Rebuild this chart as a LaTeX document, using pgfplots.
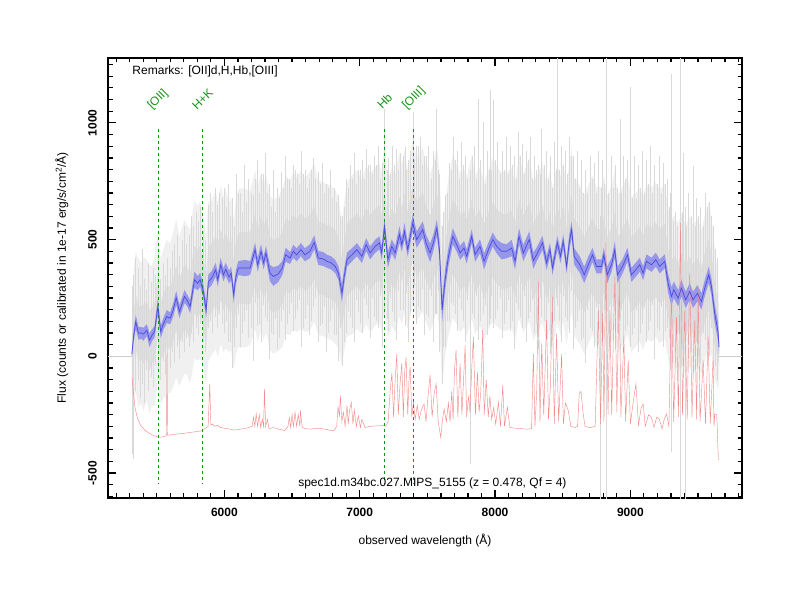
\documentclass[border=0pt]{standalone}
\usepackage{fontspec}
\setmainfont{Liberation Sans}
\usepackage{pgfplots}
\pgfplotsset{compat=1.18}
\usepgfplotslibrary{fillbetween}
\usepackage{pgfplotstable}
\definecolor{bline}{RGB}{75,75,222}
\definecolor{bband}{RGB}{150,150,234}
\definecolor{rline}{RGB}{242,140,140}
\definecolor{gline}{RGB}{20,150,20}

\pgfplotstableread{
x y e c g
5316 8 10 60 150
5330 90 25 100 280
5345 148 30 120 300
5365 99 28 120 320
5385 100 25 115 300
5402 95 28 125 330
5427 112 25 120 300
5447 69 30 130 320
5465 90 25 120 300
5484 105 25 125 320
5508 213 35 130 330
5530 105 28 125 310
5550 140 25 130 320
5574 170 28 130 330
5599 163 25 135 320
5620 195 28 135 330
5644 250 30 140 340
5668 191 28 140 320
5705 256 28 140 330
5725 240 25 140 320
5747 213 28 145 330
5779 328 35 145 340
5803 313 30 145 330
5821 328 30 145 340
5845 277 30 150 330
5865 198 35 150 320
5882 320 30 150 340
5906 335 30 150 330
5936 371 30 150 340
5951 328 28 150 330
5973 392 30 150 340
5993 349 28 150 330
6010 373 28 150 340
6035 339 28 150 320
6050 356 28 150 330
6069 263 35 150 320
6085 340 30 150 330
6103 378 30 150 340
6153 378 35 155 340
6190 378 30 155 330
6227 457 30 155 340
6246 392 30 155 330
6271 450 30 155 340
6290 400 28 155 330
6307 443 30 155 340
6337 356 35 155 330
6362 342 40 155 330
6398 353 35 155 330
6428 378 30 155 340
6453 435 30 155 340
6485 421 25 155 330
6509 450 28 155 340
6534 435 28 155 330
6566 457 28 155 340
6595 435 28 155 330
6632 450 30 155 340
6664 488 30 155 340
6694 421 30 155 330
6731 417 30 155 330
6758 407 28 155 330
6790 400 28 155 330
6819 385 28 155 330
6843 356 30 155 320
6869 270 40 150 310
6885 340 35 150 320
6906 414 30 155 330
6943 435 28 155 340
6979 457 28 155 340
7016 428 28 155 330
7048 478 28 160 340
7077 443 28 160 340
7114 471 28 160 340
7146 486 28 160 340
7163 443 30 160 340
7183 557 35 160 350
7208 414 35 160 340
7237 471 30 160 340
7262 443 30 160 340
7294 522 35 160 350
7311 478 30 160 340
7331 536 35 160 350
7355 457 30 160 340
7392 572 35 160 350
7421 500 35 160 350
7466 543 35 160 350
7490 486 35 160 340
7520 443 40 160 340
7544 486 35 160 340
7570 550 35 160 350
7589 457 40 160 340
7609 198 50 150 320
7631 328 45 150 330
7656 428 40 155 340
7688 514 35 160 350
7717 478 30 160 340
7742 443 30 160 340
7771 464 30 160 340
7791 428 30 160 340
7828 514 30 160 350
7852 435 30 160 340
7889 471 30 160 340
7919 407 35 160 340
7951 457 30 160 340
7983 500 30 160 350
8012 471 30 160 340
8049 450 35 160 340
8086 450 30 160 340
8123 464 35 160 340
8148 407 35 160 340
8177 514 35 160 350
8209 443 35 160 340
8253 500 35 160 350
8283 410 35 160 340
8307 435 30 160 340
8351 486 30 160 340
8381 400 30 160 340
8406 457 30 160 340
8425 378 30 160 340
8460 486 30 160 340
8484 428 30 160 340
8504 493 30 160 340
8529 385 30 160 340
8548 486 35 160 340
8566 543 35 160 350
8585 428 35 160 340
8627 392 35 160 340
8659 349 35 160 340
8689 392 35 160 340
8720 435 30 160 340
8750 385 30 160 340
8787 385 30 160 340
8804 435 30 160 340
8829 349 35 160 340
8861 392 30 160 340
8885 457 35 160 340
8905 349 35 160 340
8942 385 30 160 340
8979 435 30 160 340
9008 349 30 160 330
9040 371 30 160 330
9070 392 30 160 330
9094 356 30 160 330
9119 407 30 160 330
9156 392 30 160 330
9188 414 30 160 330
9217 385 30 160 330
9254 407 30 160 330
9279 313 40 150 320
9304 256 40 150 320
9321 285 35 150 320
9353 249 35 150 320
9377 292 35 150 320
9409 242 35 150 320
9439 278 35 150 320
9463 242 35 150 320
9495 270 35 150 320
9525 235 35 150 310
9550 292 35 150 310
9579 349 35 150 310
9599 299 35 150 300
9623 184 40 140 280
9648 105 40 120 250
9655 40 30 80 150
}\blue

\pgfplotstableread{
x lo hi
5320 -420 300
5328 -440 350
5345 -150 420
5360 -100 380
5375 -180 300
5392 -120 460
5410 -200 330
5425 -60 290
5440 -150 400
5458 -90 320
5475 -130 380
5492 -40 350
5510 -60 460
5528 -100 330
5545 -20 400
5562 -80 350
5580 0 420
5598 -50 380
5615 20 450
5632 -30 480
5650 40 520
5667 -10 430
5685 60 500
5702 20 560
5720 80 480
5738 40 520
5755 100 600
5772 60 560
5790 120 620
5808 90 580
5825 140 640
5842 60 540
5860 20 500
5878 120 650
5895 150 700
5912 100 620
5930 170 720
5948 120 650
5965 180 700
5982 140 680
6000 100 720
6030 60 740
6060 -50 680
6090 120 780
6120 40 700
6150 150 820
6180 80 760
6210 -20 690
6240 130 840
6270 60 780
6300 170 870
6330 -10 740
6360 90 800
6390 30 720
6420 150 790
6450 70 860
6480 180 760
6510 110 820
6540 200 780
6570 40 880
6600 160 800
6630 90 760
6660 210 850
6690 60 790
6720 140 830
6750 20 740
6780 150 800
6810 90 720
6840 -20 690
6870 -40 600
6900 100 760
6930 170 820
6960 60 870
6990 190 800
7020 100 840
7050 220 890
7080 80 820
7110 170 860
7140 120 900
7170 40 830
7185 180 1060
7210 110 850
7240 190 900
7270 70 890
7300 200 870
7336 130 895
7360 60 840
7397 230 1046
7420 140 900
7450 200 940
7480 90 860
7510 170 900
7540 60 880
7569 180 1060
7590 20 780
7610 -120 560
7630 40 690
7660 150 830
7690 220 940
7720 110 880
7750 200 920
7780 60 860
7816 -461 800
7845 160 900
7877 70 1103
7914 180 1002
7940 90 880
7963 160 1139
7987 120 1096
8020 200 920
8050 80 880
8080 190 940
8110 110 900
8140 30 860
8170 200 960
8200 120 910
8230 60 880
8260 190 940
8290 100 860
8320 30 820
8344 170 975
8380 90 880
8410 10 860
8440 150 920
8462 220 1280
8490 60 900
8520 170 880
8550 100 940
8580 30 860
8610 150 880
8640 70 840
8670 -30 800
8700 120 860
8730 40 830
8760 150 880
8775 -610 600
8795 80 840
8824 -610 1280
8860 110 860
8890 30 820
8922 150 1017
8950 60 860
8980 130 840
8996 40 1154
9030 120 860
9060 20 820
9090 140 880
9120 60 840
9150 150 900
9180 -10 820
9210 110 860
9240 40 830
9270 120 760
9295 -60 700
9304 -410 1210
9330 20 620
9365 -610 680
9370 40 1280
9390 -40 873
9402 -610 640
9430 50 700
9463 -20 816
9490 60 680
9520 -30 640
9550 70 700
9580 0 660
9610 -60 560
9640 -100 420
6015 150 640
6045 60 600
6075 40 560
6105 180 700
6135 100 620
6165 200 660
6195 120 700
6225 230 760
6255 140 700
6285 220 780
6315 150 700
6345 100 640
6375 160 620
6405 80 680
6435 200 720
6465 140 760
6495 230 720
6525 160 800
6555 240 740
6585 120 780
6615 220 720
6645 150 800
6675 250 760
6705 130 740
6735 210 700
6765 100 720
6795 200 680
6825 90 660
6855 120 600
6885 60 640
6915 190 720
6945 120 760
6975 240 740
7005 140 800
7035 250 760
7065 160 820
7095 250 780
7125 150 820
7155 260 760
7200 160 800
7225 250 780
7255 150 820
7285 280 800
7320 200 860
7345 270 800
7375 190 880
7405 300 840
7435 210 900
7465 290 820
7495 180 860
7525 260 760
7555 180 840
7580 280 800
7620 40 620
7645 150 700
7675 230 800
7705 180 840
7735 250 760
7765 150 820
7795 240 760
7830 180 860
7860 260 760
7890 150 840
7925 220 740
7955 140 800
7975 260 800
8005 160 840
8035 250 780
8065 140 800
8095 240 780
8125 150 820
8155 230 760
8185 170 860
8215 260 780
8245 160 840
8275 240 760
8305 140 800
8335 250 780
8365 150 820
8395 230 760
8425 120 720
8455 250 800
8475 150 800
8505 260 820
8535 150 780
8565 280 860
8595 120 760
8625 200 720
8655 80 700
8685 200 700
8715 110 760
8745 210 700
8785 100 720
8810 200 740
8840 90 700
8870 210 720
8900 100 720
8935 200 700
8965 110 760
9000 200 700
9015 90 680
9045 200 680
9075 100 720
9105 210 700
9135 110 740
9165 220 700
9195 120 740
9225 210 700
9255 110 740
9285 80 640
9315 40 580
9345 100 560
9380 30 620
9415 90 560
9450 20 600
9480 100 560
9505 0 600
9535 100 560
9565 50 640
9595 120 600
9625 -40 460
}\spikes

\pgfplotstableread{
x y
5318 -90
5325 -140
5340 -220
5356 -262
5380 -295
5410 -315
5440 -328
5480 -340
5515 -347
5545 -345
5572 -340
5576 20
5580 -338
5610 -336
5650 -333
5700 -330
5750 -326
5800 -322
5835 -319
5855 -310
5880 -300
5892 -118
5900 -295
5912 -290
5930 -300
5950 -296
5970 -305
6000 -308
6040 -312
6069 -316
6100 -314
6140 -310
6180 -305
6205 -300
6215 -260
6225 -300
6235 -245
6245 -300
6258 -250
6268 -305
6280 -270
6290 -300
6296 -140
6305 -300
6318 -270
6330 -310
6360 -305
6400 -312
6446 -318
6470 -300
6480 -262
6490 -305
6500 -250
6510 -300
6522 -240
6534 -300
6546 -250
6558 -300
6562 -232
6575 -305
6600 -310
6640 -312
6680 -308
6720 -310
6760 -314
6807 -320
6830 -300
6840 -215
6850 -260
6857 -168
6868 -280
6880 -240
6892 -300
6906 -211
6915 -290
6925 -230
6938 -197
6950 -290
6960 -230
6975 -300
6990 -255
7005 -305
7016 -270
7040 -305
7080 -300
7120 -298
7176 -297
7190 -300
7210 -280
7225 -150
7238 -70
7250 -260
7262 -100
7274 10
7285 -250
7298 -120
7311 -30
7322 -260
7333 -60
7343 -5
7355 -250
7365 -90
7373 -45
7385 -260
7397 -195
7410 -270
7425 -210
7440 -270
7455 -230
7476 -205
7490 -280
7505 -170
7520 -80
7535 -260
7550 -160
7565 -118
7580 -280
7599 -348
7612 -270
7624 -226
7640 -280
7655 -200
7668 -280
7680 -150
7690 -270
7700 -60
7712 26
7725 -260
7742 -30
7755 -250
7765 -130
7779 47
7790 -260
7805 -170
7815 -240
7828 -50
7840 83
7855 -250
7870 -68
7882 -240
7895 -150
7909 112
7920 -250
7935 -100
7950 -260
7962 -170
7975 -270
7990 -220
8005 -290
8025 -197
8040 -300
8057 -125
8070 -300
8091 -218
8110 -305
8150 -308
8200 -310
8240 -312
8270 -310
8283 10
8295 -300
8308 -150
8320 320
8332 -280
8345 55
8360 -250
8381 155
8395 -270
8410 -120
8423 255
8438 -290
8455 98
8470 -280
8492 10
8505 -290
8520 -200
8541 -232
8560 -300
8590 -305
8610 -300
8622 -160
8635 -150
8650 -240
8665 -300
8700 -306
8740 -300
8763 198
8780 -290
8795 185
8805 -280
8819 486
8835 -250
8849 198
8862 -250
8875 100
8886 342
8900 -240
8918 327
8930 -260
8940 -100
8952 84
8965 -280
8984 -17
9000 -290
9020 -200
9041 -118
9060 -295
9080 -220
9095 -204
9110 -300
9135 -250
9156 -261
9175 -305
9195 -260
9213 -268
9235 -310
9250 -270
9267 -247
9285 -300
9304 298
9320 -280
9341 169
9355 -260
9370 572
9385 -250
9402 198
9420 -270
9439 356
9455 -260
9476 155
9490 -270
9501 298
9515 -280
9538 -17
9555 -290
9575 84
9590 -290
9611 -17
9618 -300
9624 -247
9638 -250
9643 -320
9650 -445
}\red

\begin{document}
\fontsize{12bp}{14bp}\selectfont
\begin{tikzpicture}
\begin{axis}[
  scale only axis, width=634bp, height=440bp,
  xmin=5140, xmax=9825, ymin=-607, ymax=1278,
  xtick={6000,7000,8000,9000},
  ytick={-500,0,500,1000},
  minor xtick={5200,5300,...,9800},
  minor ytick={-600,-550,...,1250},
  tick align=inside,
  major tick length=8bp, minor tick length=4.5bp,
  every tick/.style={black, line width=1.2bp},
  axis line style={line width=1.6bp},
  /pgf/number format/assume math mode=true,
  /pgf/number format/1000 sep={},
  xticklabel style={font=\bfseries, yshift=-6bp},
  yticklabel style={font=\bfseries, rotate=90, anchor=south, inner ysep=11bp},
  every axis x label/.style={at={(axis description cs:0.5,-0.0955)}, anchor=center},
  every axis y label/.style={at={(axis description cs:-0.0726,0.5)}, rotate=90, anchor=center},
  xlabel={observed wavelength (Å)},
  ylabel={Flux (counts or calibrated in 1e-17 erg/s/cm\textsuperscript{2}/Å)},
]
% grey spectrum envelope
\addplot[name path=gu, draw=none] table[x=x, y expr=\thisrow{y}+\thisrow{g}] {\blue};
\addplot[name path=gl, draw=none] table[x=x, y expr=\thisrow{y}-\thisrow{g}] {\blue};
\addplot[fill=gray!12, draw=none] fill between[of=gu and gl];
\addplot[name path=cu, draw=none] table[x=x, y expr=\thisrow{y}+\thisrow{c}] {\blue};
\addplot[name path=cl, draw=none] table[x=x, y expr=\thisrow{y}-\thisrow{c}] {\blue};
\addplot[fill=gray!25, draw=none] fill between[of=cu and cl];
% individual grey spikes
\addplot[draw=none, mark=none, on layer=pre main,
  error bars/.cd, y dir=plus, y explicit, error mark=none,
  error bar style={draw=gray!30, line width=0.5bp, solid}]
  table[x=x, y=lo, y error expr=\thisrow{hi}-\thisrow{lo}] {\spikes};
\addplot[gray!40, line width=0.6bp] coordinates {(5140,0) (5318,0)};
\addplot[gray!40, line width=0.6bp] coordinates {(9652,0) (9825,0)};
% blue smoothed band
\addplot[name path=bu, draw=none] table[x=x, y expr=\thisrow{y}+\thisrow{e}] {\blue};
\addplot[name path=bl, draw=none] table[x=x, y expr=\thisrow{y}-\thisrow{e}] {\blue};
\addplot[fill=bband, draw=none] fill between[of=bu and bl];
% red error spectrum
\addplot[rline, line width=0.45bp] table[x=x, y=y] {\red};
% line markers
\addplot[gline, line width=0.8bp, dash pattern=on 3.5bp off 2.5bp] coordinates {(5509,974) (5509,-547)};
\addplot[gline, line width=0.8bp, dash pattern=on 3.5bp off 2.5bp] coordinates {(5838,974) (5838,-547)};
\addplot[gline, line width=0.8bp, dash pattern=on 3.5bp off 2.5bp] coordinates {(7185,974) (7185,-547)};
\addplot[gline, line width=0.8bp, dash pattern=on 3.5bp off 2.5bp] coordinates {(7400,974) (7400,-547)};
% blue line
\addplot[bline, line width=0.7bp] table[x=x, y=y] {\blue};
\node[gline, rotate=45] at (axis cs:5509,1100) {[OII]};
\node[gline, rotate=45] at (axis cs:5838,1100) {H+K};
\node[gline, rotate=45] at (axis cs:7185,1095) {Hb};
\node[gline, rotate=45] at (axis cs:7400,1105) {[OIII]};
\node[anchor=west] at (axis cs:5290,1220) {Remarks: [OII]d,H,Hb,[OIII]};
\node at (axis cs:7537,-545) {spec1d.m34bc.027.MIPS\_5155 (z = 0.478, Qf = 4)};
\coordinate (ll) at (rel axis cs:0,0);
\end{axis}
\pgfresetboundingbox
\path[use as bounding box] ([shift={(-108bp,-102bp)}]ll) rectangle ([shift={(692bp,498bp)}]ll);
\end{tikzpicture}
\end{document}
